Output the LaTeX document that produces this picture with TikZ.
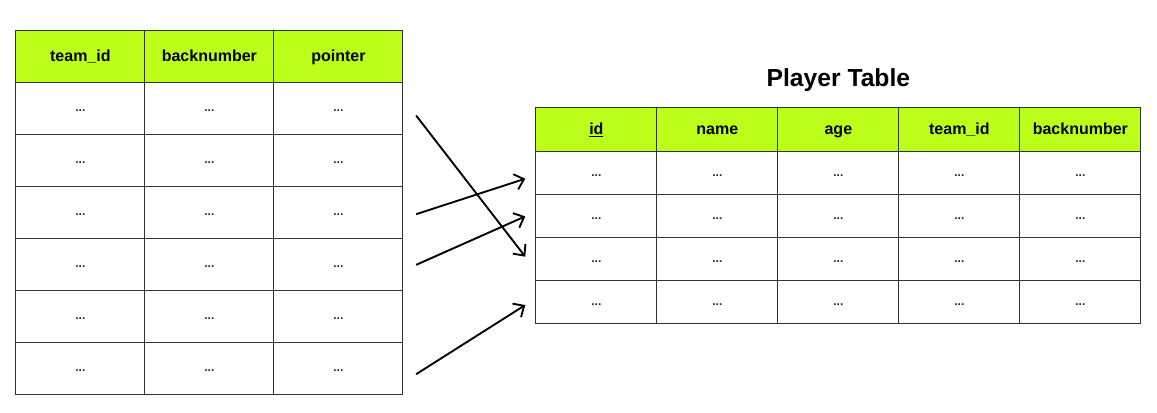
\documentclass[tikz,border=0pt]{standalone}
\usepackage{fontspec}
\setmainfont{Liberation Sans}
\usepackage{xcolor}
\definecolor{lime}{RGB}{187, 255,  26}
\definecolor{grid}{RGB}{ 51,  51,  51}
\definecolor{dots}{RGB}{ 30,  40,  70}
\usepackage{tikz}
\usetikzlibrary{
  matrix, arrows.meta, positioning
}

\begin{document}
\begin{tikzpicture}[
    cell/.style={draw=grid, line width=0.9pt, anchor=center, inner sep=0pt,
      text height=4.5pt, text depth=0pt, font=\small\bfseries\color{dots}},
    head/.style={fill=lime, text height=9pt, text depth=2.5pt,
      font=\bfseries\fontsize{12}{14}\selectfont\color{black}},
    link/.style={line width=1.4pt, -{Straight Barb[length=6.5pt, width=12pt, line width=1.4pt]}}
  ]
    \useasboundingbox (0,0) rectangle (867.75pt,-309.75pt);

    % pointer table (left)
    \matrix (team) [matrix of nodes, anchor=north west, inner sep=0pt,
      column sep=-0.9pt, row sep=-0.9pt,
      nodes={cell, minimum width=96.75pt, minimum height=39pt},
      row 1/.style={nodes={head}}] at (11.25pt,-22.5pt) {
      team\_id & backnumber & pointer \\
      ... & ... & ... \\
      ... & ... & ... \\
      ... & ... & ... \\
      ... & ... & ... \\
      ... & ... & ... \\
      ... & ... & ... \\
    };

    % player table (right)
    \matrix (player) [matrix of nodes, anchor=north west, inner sep=0pt,
      column sep=-0.9pt, row sep=-0.9pt,
      nodes={cell, minimum width=90.75pt, minimum height=32.25pt},
      row 1/.style={nodes={head, minimum height=33pt}}] at (401.25pt,-80.25pt) {
      \underline{id} & name & age & team\_id & backnumber \\
      ... & ... & ... & ... & ... \\
      ... & ... & ... & ... & ... \\
      ... & ... & ... & ... & ... \\
      ... & ... & ... & ... & ... \\
    };
    \node (title) [above=8pt of player-1-3, font=\bfseries\fontsize{18.5}{22}\selectfont] {Player Table};

    % pointers
    \draw[link] ([xshift=9.5pt, yshift=-5pt]team-2-3.east) -- ([xshift=-7.5pt, yshift=2pt]player-4-1.west);
    \draw[link] ([xshift=9.5pt, yshift=-1pt]team-4-3.east) -- ([xshift=-7.5pt, yshift=-4pt]player-2-1.west);
    \draw[link] ([xshift=9.5pt]team-5-3.east) -- ([xshift=-7.5pt]player-3-1.west);
    \draw[link] ([xshift=9.5pt, yshift=-4pt]team-7-3.east) -- ([xshift=-7.5pt, yshift=-2pt]player-5-1.west);
  \end{tikzpicture}
\end{document}
